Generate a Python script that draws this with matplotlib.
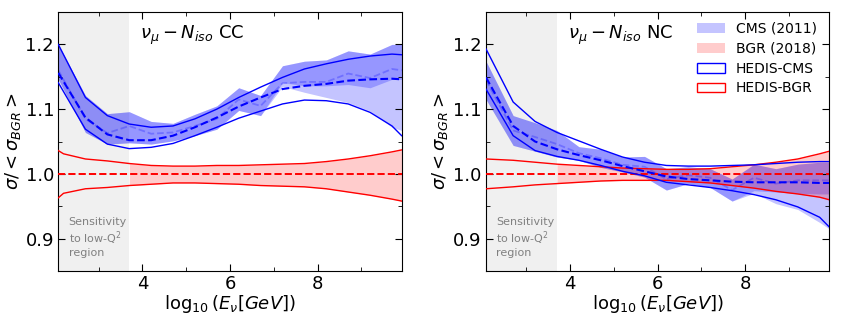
import matplotlib
matplotlib.use("Agg")
import matplotlib.pyplot as plt
from matplotlib.patches import Patch
from matplotlib.ticker import MultipleLocator

# energy grid (log10 E / GeV)
x_grid = [2.08, 2.7, 3.2, 3.7, 4.2, 4.7, 5.2, 5.7, 6.2, 6.7, 7.2, 7.7, 8.2, 8.7, 9.2, 9.7, 9.92]
x_bgr_cc = [2.08, 2.2, 2.7, 3.2, 3.7, 4.2, 4.7, 5.2, 5.7, 6.2, 6.7, 7.2, 7.7, 8.2, 8.7, 9.2, 9.7, 9.92]

# ---- CC ----
cc_hedis_cms_hi = [1.200, 1.118, 1.090, 1.077, 1.072, 1.074, 1.085, 1.100, 1.118, 1.134, 1.149, 1.162, 1.170, 1.177, 1.182, 1.185, 1.184]
cc_hedis_cms_c = [1.156, 1.087, 1.061, 1.052, 1.052, 1.059, 1.072, 1.087, 1.104, 1.118, 1.131, 1.136, 1.139, 1.144, 1.146, 1.147, 1.146]
cc_hedis_cms_lo = [1.141, 1.069, 1.046, 1.039, 1.041, 1.047, 1.059, 1.072, 1.086, 1.097, 1.108, 1.114, 1.113, 1.108, 1.095, 1.074, 1.059]

cc_cms_hi = [1.200, 1.121, 1.093, 1.096, 1.081, 1.078, 1.092, 1.105, 1.133, 1.121, 1.167, 1.174, 1.176, 1.190, 1.185, 1.200, 1.200]
cc_cms_lo_dark = [1.146, 1.064, 1.046, 1.048, 1.046, 1.051, 1.059, 1.069, 1.098, 1.090, 1.141, 1.136, 1.136, 1.138, 1.133, 1.146, 1.146]
cc_cms_lo_light = [1.146, 1.064, 1.046, 1.048, 1.046, 1.051, 1.059, 1.069, 1.098, 1.090, 1.135, 1.126, 1.118, 1.110, 1.097, 1.072, 1.067]
cc_cms_c = [1.160, 1.085, 1.063, 1.074, 1.062, 1.064, 1.074, 1.085, 1.115, 1.105, 1.140, 1.142, 1.142, 1.155, 1.148, 1.162, 1.160]

cc_bgr_hi = [1.036, 1.031, 1.023, 1.020, 1.016, 1.013, 1.012, 1.012, 1.013, 1.013, 1.014, 1.015, 1.016, 1.019, 1.023, 1.028, 1.034, 1.037]
cc_bgr_lo = [0.963, 0.970, 0.977, 0.979, 0.982, 0.984, 0.986, 0.986, 0.985, 0.984, 0.982, 0.981, 0.980, 0.977, 0.972, 0.967, 0.961, 0.958]

# ---- NC ----
nc_hedis_cms_hi = [1.193, 1.111, 1.081, 1.064, 1.051, 1.038, 1.026, 1.018, 1.013, 1.012, 1.012, 1.013, 1.014, 1.016, 1.018, 1.019, 1.019]
nc_hedis_cms_c = [1.149, 1.074, 1.050, 1.038, 1.029, 1.021, 1.012, 1.004, 0.996, 0.992, 0.990, 0.988, 0.987, 0.987, 0.987, 0.986, 0.986]
nc_hedis_cms_lo = [1.131, 1.059, 1.036, 1.027, 1.021, 1.013, 1.004, 0.997, 0.987, 0.983, 0.979, 0.974, 0.968, 0.960, 0.949, 0.933, 0.918]

nc_cms_hi = [1.174, 1.090, 1.079, 1.067, 1.042, 1.038, 1.026, 1.027, 1.008, 1.011, 1.008, 0.992, 1.015, 1.008, 1.015, 1.018, 1.018]
nc_cms_lo_dark = [1.115, 1.044, 1.035, 1.026, 1.021, 1.010, 1.003, 0.995, 0.975, 0.985, 0.979, 0.958, 0.974, 0.972, 0.970, 0.969, 0.969]
nc_cms_lo_light = [1.115, 1.044, 1.035, 1.026, 1.021, 1.010, 1.003, 0.995, 0.975, 0.985, 0.979, 0.958, 0.970, 0.954, 0.945, 0.925, 0.915]
nc_cms_c = [1.145, 1.067, 1.057, 1.046, 1.032, 1.024, 1.014, 1.011, 0.992, 0.998, 0.994, 0.975, 0.994, 0.985, 0.990, 0.990, 0.990]

nc_bgr_hi = [1.023, 1.021, 1.018, 1.015, 1.013, 1.011, 1.009, 1.008, 1.007, 1.007, 1.008, 1.011, 1.014, 1.018, 1.023, 1.031, 1.035]
nc_bgr_lo = [0.977, 0.980, 0.983, 0.985, 0.987, 0.989, 0.990, 0.990, 0.990, 0.988, 0.986, 0.982, 0.978, 0.973, 0.969, 0.964, 0.960]

low_q2_edge = 3.7
x_lim = (2.08, 9.92)
y_lim = (0.85, 1.25)
cms_alpha = 0.23
bgr_alpha = 0.2


def draw_panel(ax, xb, b_hi, b_lo, c_hi, c_c, c_lo, m_hi, m_lo_d, m_lo_l, m_c, title):
    ax.axvspan(x_lim[0], low_q2_edge, color="#f0f0f0", lw=0, zorder=0)

    # CMS (2011) band, two overlapping fills
    ax.fill_between(x_grid, m_lo_l, m_hi, color="blue", alpha=cms_alpha, lw=0, zorder=1)
    ax.fill_between(x_grid, m_lo_d, m_hi, color="blue", alpha=cms_alpha, lw=0, zorder=1)
    ax.plot(x_grid, m_c, color="blue", alpha=0.25, ls="--", lw=1.3, zorder=2)

    # BGR (2018) band, above low-Q2 region only
    xs = [x for x in xb if x >= low_q2_edge]
    hs = [h for x, h in zip(xb, b_hi) if x >= low_q2_edge]
    ls_ = [l for x, l in zip(xb, b_lo) if x >= low_q2_edge]
    ax.fill_between(xs, ls_, hs, color="red", alpha=bgr_alpha, lw=0, zorder=1)

    # HEDIS lines
    ax.plot(xb, b_hi, color="red", lw=1, zorder=3)
    ax.plot(xb, b_lo, color="red", lw=1, zorder=3)
    ax.plot([xb[0], xb[-1]], [1.0, 1.0], color="red", lw=1.4, ls="--", zorder=3)
    ax.plot(x_grid, c_hi, color="blue", lw=1, zorder=3)
    ax.plot(x_grid, c_lo, color="blue", lw=1, zorder=3)
    ax.plot(x_grid, c_c, color="blue", lw=1.5, ls="--", zorder=3)

    ax.set_xlim(*x_lim)
    ax.set_ylim(*y_lim)
    ax.xaxis.set_major_locator(MultipleLocator(2))
    ax.xaxis.set_minor_locator(MultipleLocator(1))
    ax.yaxis.set_major_locator(MultipleLocator(0.1))
    ax.yaxis.set_minor_locator(MultipleLocator(0.05))
    ax.tick_params(which="both", direction="in", top=True, right=True, labelsize=13)
    ax.tick_params(which="major", length=5, pad=3)
    ax.tick_params(which="minor", length=3)
    ax.set_xlabel(r"$\log_{10}(E_{\nu}[GeV])$", fontsize=13, labelpad=0)
    ax.set_ylabel(r"$\sigma/<\sigma_{BGR}>$", fontsize=13, labelpad=2)

    ax.text(0.238, 0.91, title, transform=ax.transAxes, fontsize=13, va="center")
    ax.text(0.03, 0.05, "Sensitivity\nto low-Q$^2$\nregion", transform=ax.transAxes,
            fontsize=8, color="grey", va="bottom", linespacing=1.15)


fig = plt.figure(figsize=(8.42, 3.16), dpi=100)
ax1 = fig.add_axes([0.0692, 0.1424, 0.4078, 0.8196])
ax2 = fig.add_axes([0.5772, 0.1424, 0.4077, 0.8196])

draw_panel(ax1, x_bgr_cc, cc_bgr_hi, cc_bgr_lo, cc_hedis_cms_hi, cc_hedis_cms_c, cc_hedis_cms_lo,
           cc_cms_hi, cc_cms_lo_dark, cc_cms_lo_light, cc_cms_c, r"$\nu_\mu - N_{iso}$ CC")
draw_panel(ax2, x_grid, nc_bgr_hi, nc_bgr_lo, nc_hedis_cms_hi, nc_hedis_cms_c, nc_hedis_cms_lo,
           nc_cms_hi, nc_cms_lo_dark, nc_cms_lo_light, nc_cms_c, r"$\nu_\mu - N_{iso}$ NC")

handles = [
    Patch(facecolor="blue", alpha=cms_alpha, lw=0, label="CMS (2011)"),
    Patch(facecolor="red", alpha=bgr_alpha, lw=0, label="BGR (2018)"),
    Patch(facecolor="white", edgecolor="blue", label="HEDIS-CMS"),
    Patch(facecolor="white", edgecolor="red", label="HEDIS-BGR"),
]
ax2.legend(handles=handles, loc="upper right", frameon=False, fontsize=10,
           bbox_to_anchor=(1.0, 1.01), labelspacing=0.42)

fig.savefig("out.png", dpi=100)
